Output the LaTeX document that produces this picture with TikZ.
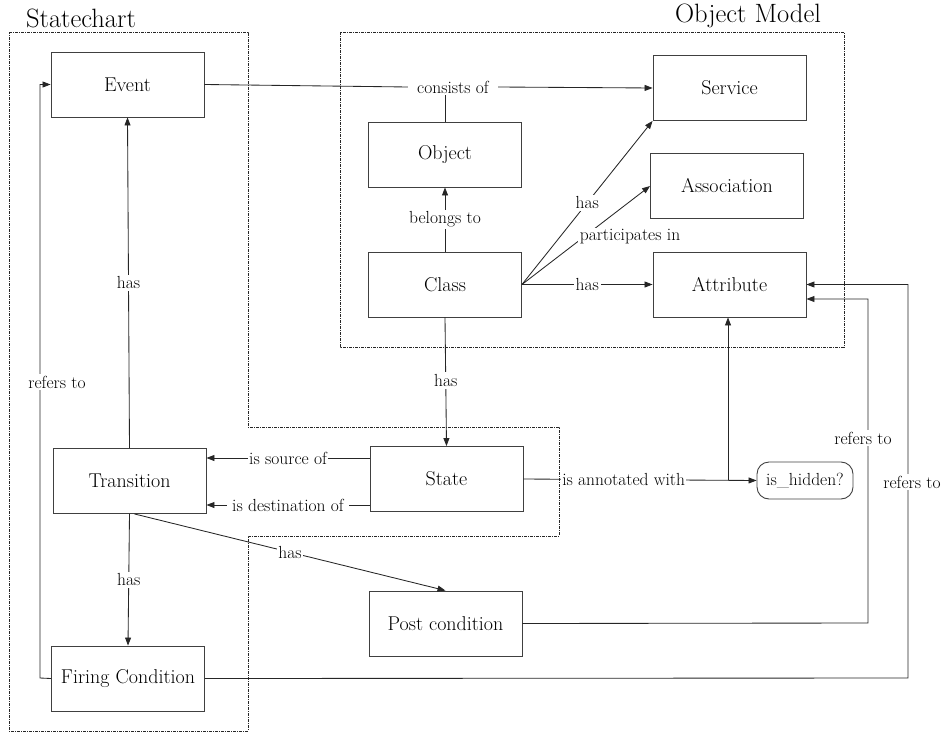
\documentclass[tikz,border=0pt]{standalone}
\usetikzlibrary{arrows.meta}
\begin{document}
\begin{tikzpicture}[x=1pt,y=-1pt,
  box/.style={draw=black!75, line width=0.9pt, minimum width=153pt, minimum height=65pt, inner sep=0pt, font=\fontsize{20}{23}\selectfont},
  lbl/.style={fill=white, inner sep=2pt, font=\fontsize{17.5}{20}\selectfont},
  title/.style={font=\fontsize{26.5}{30}\selectfont, inner sep=0pt},
  conn/.style={draw=black!85, line width=0.85pt},
  arr/.style={conn, -{Triangle[length=8pt,width=6pt]}},
  region/.style={draw=black!85, line width=0.7pt, dash pattern=on 3pt off 1pt on 1pt off 1pt},
]
\useasboundingbox (0,0) rectangle (947,733);

% regions
\draw[region] (9,32) -- (248,32) -- (248,427) -- (559,427) -- (559,536) -- (248,536) -- (248,731) -- (9,731) -- cycle;
\draw[region] (340,32) rectangle (844,347);
\node[title] (tsc) at (81,18) {Statechart};
\node[title] (tom) at (748,16) {Object Model};

% nodes
\node[box] (event) at (127.5,84.5) {Event};
\node[box] (object) at (445,154.5) {Object};
\node[box] (service) at (729.5,88) {Service};
\node[box] (assoc) at (727,186) {Association};
\node[box] (attr) at (729.5,284.5) {Attribute};
\node[box] (class) at (445,284.5) {Class};
\node[box] (state) at (446.5,479) {State};
\node[box] (trans) at (129.5,481) {Transition};
\node[box] (firing) at (128,678.5) {Firing Condition};
\node[box] (post) at (445.5,623.5) {Post condition};
\node[draw=black!75, line width=0.9pt, rounded corners=12pt, minimum width=96pt, minimum height=37pt, inner sep=0pt, font=\fontsize{17.5}{20}\selectfont] (hidden) at (805,480.5) {is\_hidden?};

% consists of
\node[lbl, inner xsep=9pt] (cons) at (453,87) {consists of};
\draw[conn] (event.east) -- (cons.west);
\draw[arr] (cons.east) -- (service.west);
\draw[conn] (object.north) -- (object.north |- cons.south);

% class relations
\draw[arr] (class.north) -- node[lbl] (belongs) {belongs to} (object.south);
\draw[arr] (class.east) -- node[lbl, pos=0.5] (hassvc) {has} (service.south west);
\draw[arr] (class.east) -- (assoc.west);
\node[lbl] (part) at (630,237) {participates in};
\draw[arr] (class.east) -- node[lbl] (hasattr) {has} (attr.west);
\draw[arr] (class.south) -- node[lbl, pos=0.49] (hasstate) {has} (state.north);

% transition relations
\draw[arr] (trans.north) -- node[lbl, pos=0.5] (hasevent) {has} (event.south);
\draw[arr] (state.west |- 0,458) -- node[lbl, inner xsep=1pt] (src) {is source of} (trans.east |- 0,458);
\draw[arr] (state.west |- 0,505) -- node[lbl, inner xsep=5pt] (dst) {is destination of} (trans.east |- 0,505);
\draw[arr] (trans.south) -- node[lbl] (hasfire) {has} (firing.north);
\draw[arr] ([xshift=5pt]trans.south) -- node[lbl, inner sep=1pt] (haspost) {has} (post.north);

% annotation
\coordinate (junc) at (728,480);
\draw[arr] (state.east) -- node[lbl, inner sep=1pt, pos=0.43] (annot) {is annotated with} (hidden.west);
\draw[arr] (junc) -- (junc |- attr.south);

% refers to
\coordinate (fl) at (40,678);
\coordinate (pr) at (868,623);
\coordinate (fr) at (908,678);
\draw[arr] (firing.west) -- (fl) -- (fl |- event.west) -- (event.west);
\node[lbl] (ref1) at (57,382) {refers to};
\draw[arr] (post.east) -- (pr) -- (pr |- 0,299) -- (attr.east |- 0,299);
\node[lbl] (ref2) at (863,438) {refers to};
\draw[arr] (firing.east) -- (fr) -- (fr |- attr.east) -- (attr.east);
\node[lbl] (ref3) at (912,482) {refers to};
\end{tikzpicture}
\end{document}
